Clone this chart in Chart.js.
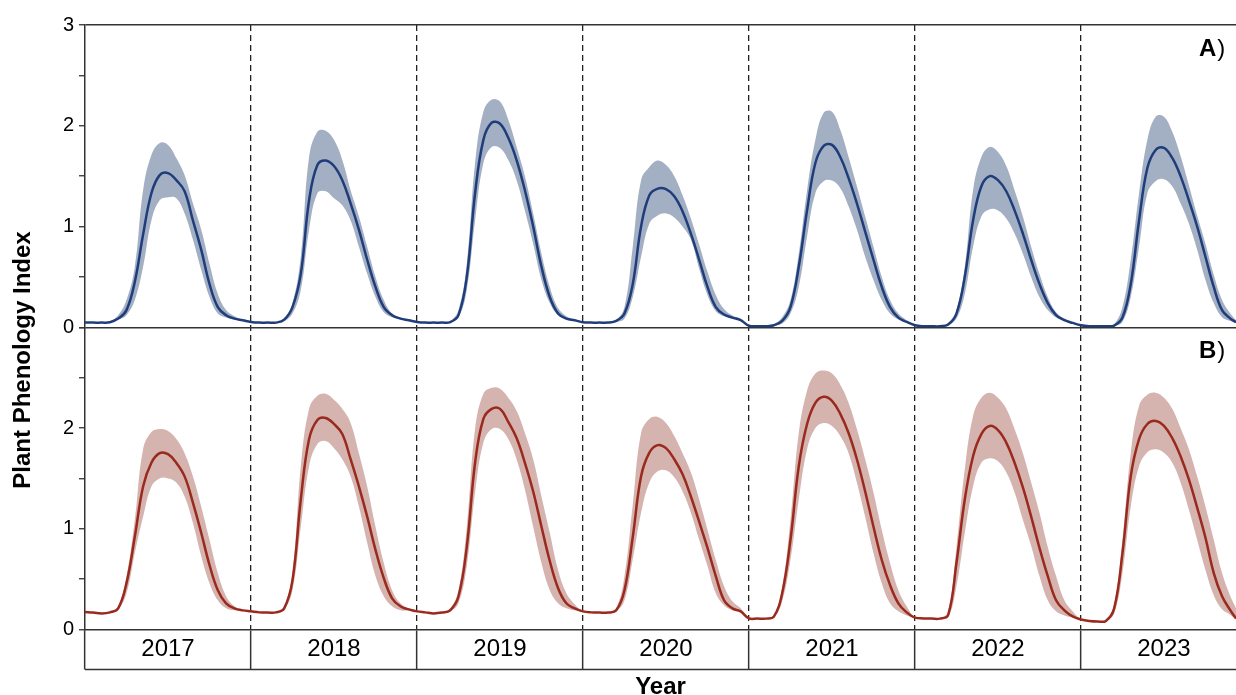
<!DOCTYPE html>
<html>
<head>
<meta charset="utf-8">
<script src="https://cdn.jsdelivr.net/npm/chart.js@4.4.1/dist/chart.umd.min.js"></script>
<style>
  html, body { margin: 0; padding: 0; background: #fff; }
  #wrap { width: 1236px; height: 695px; position: relative; }
</style>
</head>
<body>
<div id="wrap"><canvas id="chart_phenology"></canvas></div>
<script>
// ---- data (one row per year, 20 samples per season) ----
const years = [2017, 2018, 2019, 2020, 2021, 2022, 2023];
const seasonSteps = [0, 0.05, 0.1, 0.15, 0.2, 0.25, 0.3, 0.35, 0.4, 0.45,
                     0.5, 0.55, 0.6, 0.65, 0.7, 0.75, 0.8, 0.85, 0.9, 0.95];
const lastEdge = 2023.934;   // the record stops before the end of 2023

// panel A)
const aMean = [
  .046,.046,.046,.05,.086,.17,.45,.92,1.33,1.51,1.53,1.46,1.35,1.06,.77,.43,.20,.12,.086,.07,
  .053,.046,.046,.046,.076,.20,.53,1.26,1.61,1.655,1.60,1.46,1.23,.97,.67,.40,.20,.12,.086,.07,
  .053,.046,.046,.046,.05,.12,.50,1.33,1.86,2.03,2.02,1.88,1.66,1.36,1.0,.60,.30,.136,.086,.07,
  .05,.046,.046,.046,.063,.136,.43,1.0,1.31,1.376,1.37,1.30,1.15,.93,.67,.40,.20,.126,.096,.07,
  .015,.01,.01,.02,.063,.20,.60,1.16,1.63,1.80,1.81,1.69,1.48,1.23,.95,.67,.40,.20,.096,.053,
  .02,.01,.01,.01,.027,.136,.50,1.06,1.40,1.50,1.46,1.35,1.16,.93,.67,.43,.24,.12,.07,.043,
  .02,.01,.01,.01,.017,.096,.43,1.06,1.58,1.76,1.78,1.68,1.50,1.26,1.0,.70,.40,.17,.086,.05
];
const aUpper = [
  .046,.046,.046,.06,.12,.27,.60,1.36,1.71,1.83,1.81,1.68,1.51,1.23,.97,.63,.33,.17,.11,.076,
  .053,.046,.046,.046,.08,.24,.70,1.69,1.94,1.95,1.86,1.66,1.36,1.10,.80,.50,.27,.136,.096,.076,
  .053,.046,.046,.046,.06,.17,.63,1.63,2.14,2.26,2.24,2.06,1.79,1.50,1.13,.73,.40,.19,.11,.076,
  .05,.046,.046,.046,.07,.20,.80,1.46,1.59,1.655,1.61,1.50,1.31,1.08,.82,.55,.32,.18,.116,.083,
  .015,.01,.01,.03,.10,.27,.73,1.36,1.86,2.13,2.14,1.96,1.69,1.40,1.10,.80,.50,.27,.136,.07,
  .02,.01,.01,.01,.04,.17,.60,1.36,1.69,1.79,1.74,1.60,1.36,1.10,.80,.53,.30,.15,.086,.053,
  .02,.01,.01,.01,.03,.20,.67,1.33,1.86,2.09,2.09,1.94,1.70,1.41,1.11,.83,.52,.27,.136,.07
];
const aLower = [
  .046,.046,.046,.046,.076,.12,.27,.60,1.06,1.26,1.29,1.28,1.13,.87,.57,.30,.136,.096,.076,.07,
  .053,.046,.046,.046,.06,.136,.37,.97,1.33,1.35,1.28,1.21,1.06,.80,.53,.30,.15,.10,.083,.07,
  .053,.046,.046,.046,.05,.096,.37,1.06,1.63,1.79,1.78,1.66,1.46,1.16,.83,.47,.24,.12,.086,.07,
  .05,.046,.046,.046,.05,.086,.30,.70,1.03,1.11,1.13,1.09,1.0,.87,.58,.32,.16,.11,.09,.07,
  .015,.01,.01,.015,.036,.136,.40,.90,1.33,1.45,1.456,1.38,1.20,.97,.70,.47,.27,.136,.076,.043,
  .02,.01,.01,.01,.02,.086,.33,.80,1.10,1.17,1.16,1.08,.93,.73,.50,.30,.17,.096,.063,.036,
  .02,.01,.01,.01,.015,.053,.30,.80,1.33,1.45,1.47,1.40,1.23,1.03,.77,.47,.24,.10,.063,.043
];

// panel B)
const bMean = [
  .174,.168,.16,.17,.21,.46,.92,1.42,1.655,1.75,1.74,1.655,1.52,1.26,.96,.64,.39,.26,.21,.19,
  .18,.17,.168,.17,.21,.49,1.29,1.89,2.08,2.10,2.04,1.94,1.69,1.42,1.12,.79,.51,.31,.23,.20,
  .18,.17,.16,.168,.19,.33,.82,1.655,2.09,2.19,2.19,2.06,1.90,1.655,1.37,1.02,.68,.41,.26,.21,
  .18,.17,.168,.168,.19,.39,.92,1.52,1.755,1.83,1.80,1.69,1.54,1.32,1.07,.81,.53,.29,.21,.18,
  .11,.108,.108,.128,.36,.89,1.62,2.04,2.25,2.31,2.27,2.14,1.95,1.69,1.37,1.02,.69,.44,.26,.17,
  .118,.11,.108,.108,.144,.66,1.29,1.72,1.94,2.02,1.98,1.855,1.655,1.41,1.12,.81,.53,.29,.19,.13,
  .10,.085,.08,.085,.21,.76,1.52,1.89,2.04,2.07,2.02,1.90,1.72,1.49,1.21,.91,.56,.33,.19,.11
];
const bUpper = [
  .174,.168,.16,.17,.23,.53,1.09,1.79,1.96,1.99,1.97,1.89,1.75,1.52,1.22,.89,.56,.33,.23,.20,
  .18,.17,.168,.17,.23,.56,1.62,2.19,2.32,2.34,2.28,2.19,2.05,1.75,1.42,1.02,.66,.39,.26,.21,
  .18,.17,.16,.168,.21,.39,1.02,1.99,2.34,2.40,2.39,2.30,2.17,1.95,1.69,1.32,.96,.59,.36,.25,
  .18,.17,.168,.168,.21,.53,1.24,1.95,2.09,2.11,2.05,1.92,1.75,1.56,1.29,.99,.69,.43,.28,.21,
  .11,.108,.108,.14,.42,1.09,1.95,2.37,2.54,2.57,2.54,2.43,2.25,1.99,1.69,1.36,.99,.66,.39,.23,
  .118,.11,.108,.108,.18,.82,1.59,2.12,2.30,2.35,2.30,2.19,1.99,1.75,1.46,1.16,.82,.53,.29,.18,
  .10,.085,.08,.085,.25,.89,1.75,2.22,2.33,2.35,2.30,2.19,2.00,1.79,1.52,1.22,.89,.56,.33,.21
];
const bLower = [
  .174,.168,.16,.17,.20,.36,.76,1.12,1.42,1.50,1.50,1.46,1.32,1.06,.73,.46,.29,.21,.19,.19,
  .18,.17,.168,.17,.20,.39,1.02,1.62,1.84,1.87,1.80,1.69,1.52,1.22,.86,.53,.33,.23,.19,.19,
  .18,.17,.16,.168,.18,.26,.63,1.36,1.855,1.99,1.99,1.89,1.69,1.39,1.02,.66,.39,.26,.21,.19,
  .18,.17,.168,.168,.18,.29,.70,1.16,1.46,1.57,1.58,1.51,1.37,1.16,.89,.63,.36,.24,.19,.17,
  .11,.108,.108,.12,.28,.69,1.29,1.79,2.00,2.05,2.02,1.92,1.75,1.46,1.12,.76,.46,.26,.18,.14,
  .118,.11,.108,.108,.12,.43,.96,1.42,1.655,1.70,1.67,1.56,1.36,1.09,.83,.53,.29,.18,.14,.12,
  .10,.085,.08,.085,.16,.56,1.22,1.62,1.76,1.79,1.755,1.655,1.46,1.19,.89,.59,.34,.20,.145,.10
];

// x positions: every season step of every year, cut at the end of the record
const timeAxis = [];
years.forEach(function (yr) {
  seasonSteps.forEach(function (st) {
    if (yr + st < lastEdge) timeAxis.push(+(yr + st).toFixed(3));
  });
});
timeAxis.push(lastEdge);

function toPoints(values) {
  return values.map(function (v, i) { return { x: timeAxis[i], y: v }; });
}

const FONT = "'Liberation Sans', Arial, Helvetica, sans-serif";
const AXIS_COLOR = '#333333';
const BLUE = '#1f3d7b', BLUE_BAND = '#a3afc3';
const RED = '#992a1d', RED_BAND = '#d5b3ae';
const SMOOTH = 0.4;
Chart.defaults.font.family = FONT;
Chart.defaults.color = '#000';

function bandEdge(label, values, axis, fill, color) {
  return {
    label: label, data: toPoints(values), yAxisID: axis,
    borderColor: 'rgba(0,0,0,0)', borderWidth: 0, backgroundColor: color,
    pointRadius: 0, fill: fill, tension: SMOOTH
  };
}
function meanLine(label, values, axis, color) {
  return {
    label: label, data: toPoints(values), yAxisID: axis,
    borderColor: color, borderWidth: 2.5, pointRadius: 0, fill: false,
    tension: SMOOTH
  };
}

function panelAxis(showTop) {
  return {
    type: 'linear', position: 'left', stack: 'panels', stackWeight: 1,
    min: 0, max: 3,
    afterFit: function (s) { s.width = 32; },
    ticks: {
      stepSize: 0.5, padding: 5, color: '#000', font: { size: 20 },
      callback: function (v) {
        if (!Number.isInteger(v)) return '';
        if (v === 3 && !showTop) return '';
        return String(v);
      }
    },
    grid: {
      drawOnChartArea: true,
      color: function (c) {
        if (!c.tick || !showTop) return 'rgba(0,0,0,0)';
        return (c.tick.value === 0 || c.tick.value === 3) ? AXIS_COLOR : 'rgba(0,0,0,0)';
      },
      lineWidth: 1.5, tickLength: 6, tickColor: AXIS_COLOR, tickWidth: 1.3
    },
    border: { display: true, color: AXIS_COLOR, width: 1.5 }
  };
}

function drawPanelTag(ctx, letter, x, y) {
  ctx.font = 'bold 24px ' + FONT;
  ctx.fillStyle = '#000';
  ctx.textAlign = 'left';
  ctx.textBaseline = 'alphabetic';
  ctx.fillText(letter, x, y);
  const w = ctx.measureText(letter).width;
  ctx.font = '24px ' + FONT;
  ctx.fillText(')', x + w + 1, y);
}

const panelDecor = {
  id: 'panelDecor',
  beforeDraw: function (chart) {
    const ctx = chart.ctx;
    ctx.save();
    ctx.fillStyle = '#fff';
    ctx.fillRect(0, 0, chart.width, chart.height);
    ctx.restore();
  },
  afterDraw: function (chart) {
    const ctx = chart.ctx, area = chart.chartArea;
    const x = chart.scales.x, yA = chart.scales.yA, yB = chart.scales.yB;
    ctx.save();
    // closing line under the year boxes
    const rowBottom = x.top + x.options.grid.tickLength;
    ctx.strokeStyle = AXIS_COLOR;
    ctx.lineWidth = 1.5;
    ctx.beginPath();
    ctx.moveTo(x.left, rowBottom);
    ctx.lineTo(x.right, rowBottom);
    ctx.stroke();
    // panel tags
    drawPanelTag(ctx, 'A', area.right - 37, yA.getPixelForValue(3) + 31);
    drawPanelTag(ctx, 'B', area.right - 37, yB.getPixelForValue(3) + 31);
    // shared y title
    ctx.translate(23, (area.top + chart.height) / 2);
    ctx.rotate(-Math.PI / 2);
    ctx.font = 'bold 24px ' + FONT;
    ctx.textAlign = 'center';
    ctx.textBaseline = 'middle';
    ctx.fillText('Plant Phenology Index', 0, 0);
    ctx.restore();
  }
};

var chart_phenology = new Chart(document.getElementById('chart_phenology'), {
  type: 'line',
  data: {
    // mean lines first so they are painted above the bands
    datasets: [
      meanLine('A mean', aMean, 'yA', BLUE),
      meanLine('B mean', bMean, 'yB', RED),
      bandEdge('A lower', aLower, 'yA', false, BLUE_BAND),
      bandEdge('A upper', aUpper, 'yA', '-1', BLUE_BAND),
      bandEdge('B lower', bLower, 'yB', false, RED_BAND),
      bandEdge('B upper', bUpper, 'yB', '-1', RED_BAND)
    ]
  },
  options: {
    animation: false,
    responsive: true,
    maintainAspectRatio: false,
    layout: { padding: { left: 53, top: 25, right: 0, bottom: 0 } },
    plugins: {
      legend: { display: false },
      tooltip: { enabled: false }
    },
    scales: {
      x: {
        type: 'linear', min: 2017, max: lastEdge,
        afterBuildTicks: function (s) {
          s.ticks = years.map(function (v) { return { value: v }; });
        },
        afterFit: function (s) { s.height = 65.5; },
        ticks: {
          autoSkip: false, maxRotation: 0, labelOffset: 83, padding: -35,
          color: '#000', font: { size: 24 },
          callback: function (v) { return String(v); }
        },
        grid: {
          color: function (c) {
            return (c.tick && c.tick.value === years[0]) ? 'rgba(0,0,0,0)' : '#222';
          },
          lineWidth: 1.3, tickLength: 40, tickColor: AXIS_COLOR, tickWidth: 1.5,
          tickBorderDash: []
        },
        border: { display: true, color: AXIS_COLOR, width: 1.5, dash: [6, 4] },
        title: {
          display: true, text: 'Year', color: '#000',
          font: { size: 24, weight: 'bold', lineHeight: 1 },
          padding: { top: 0, bottom: -4 }
        }
      },
      yB: panelAxis(false),
      yA: panelAxis(true)
    }
  },
  plugins: [panelDecor]
});
</script>
</body>
</html>
